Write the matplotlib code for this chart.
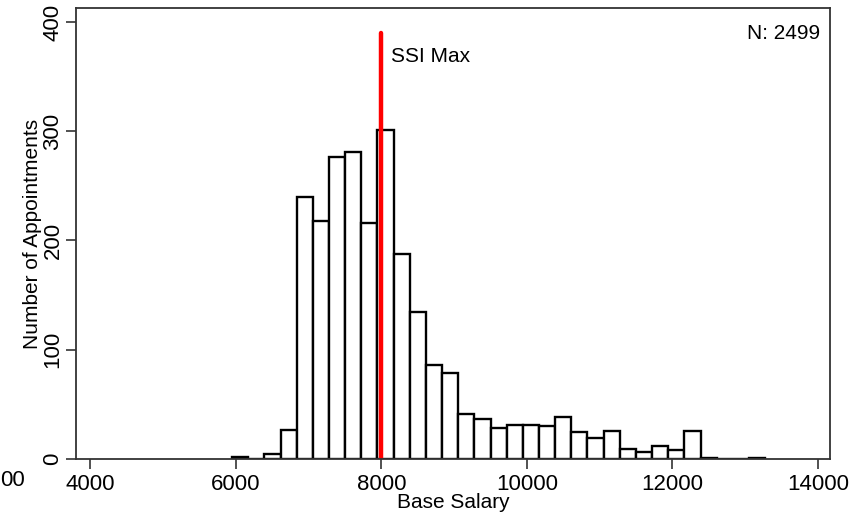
import numpy as np
import matplotlib
matplotlib.use("Agg")
import matplotlib.pyplot as plt

plt.rcParams['font.family'] = ['Liberation Sans', 'DejaVu Sans']

# histogram bins (33 bins, width ~222)
bin_start = 5950
bin_width = 222
counts = [2, 0, 5, 27, 240, 218, 276, 281, 216, 301, 188, 135, 86, 79, 41, 37,
          28, 31, 31, 30, 38, 25, 19, 26, 9, 6, 12, 8, 26, 1, 0, 0, 1]
ssi_max = 8000
ssi_top = 390
n_total = 2499

edges = bin_start + bin_width * np.arange(len(counts))

fig = plt.figure(figsize=(8.49, 5.19), dpi=100)
ax = fig.add_axes([0.0895, 0.1156, 0.888, 0.869])

ax.bar(edges, counts, width=bin_width, align='edge', color='white',
       edgecolor='black', linewidth=1.7)
ax.plot([ssi_max, ssi_max], [0, ssi_top], color='#ff0000', linewidth=3.2,
        solid_capstyle='round')
ax.text(ssi_max + 130, 368, 'SSI Max', fontsize=15, va='center', ha='left')
ax.text(0.987, 0.965, 'N: %d' % n_total, transform=ax.transAxes, fontsize=15,
        ha='right', va='top')

ax.set_xlim(3805, 14165)
ax.set_ylim(0, 412.8)
ax.set_xticks(range(4000, 14001, 2000))
ax.set_yticks(range(0, 401, 100))
ax.tick_params(axis='both', labelsize=16, length=7, width=1.2, color='#333333')
ax.tick_params(axis='y', labelrotation=90, pad=2)
for lab in ax.get_yticklabels():
    lab.set_va('center')
for s in ax.spines.values():
    s.set_linewidth(1.3)
    s.set_color('#333333')

ax.set_xlabel('Base Salary', fontsize=15, labelpad=-1)
ax.set_ylabel('Number of Appointments', fontsize=15, labelpad=0)

# cut-off label from neighbouring panel
fig.text(0.0, 0.075, '00', fontsize=16, ha='left', va='center')

fig.savefig('out.png', dpi=100)
